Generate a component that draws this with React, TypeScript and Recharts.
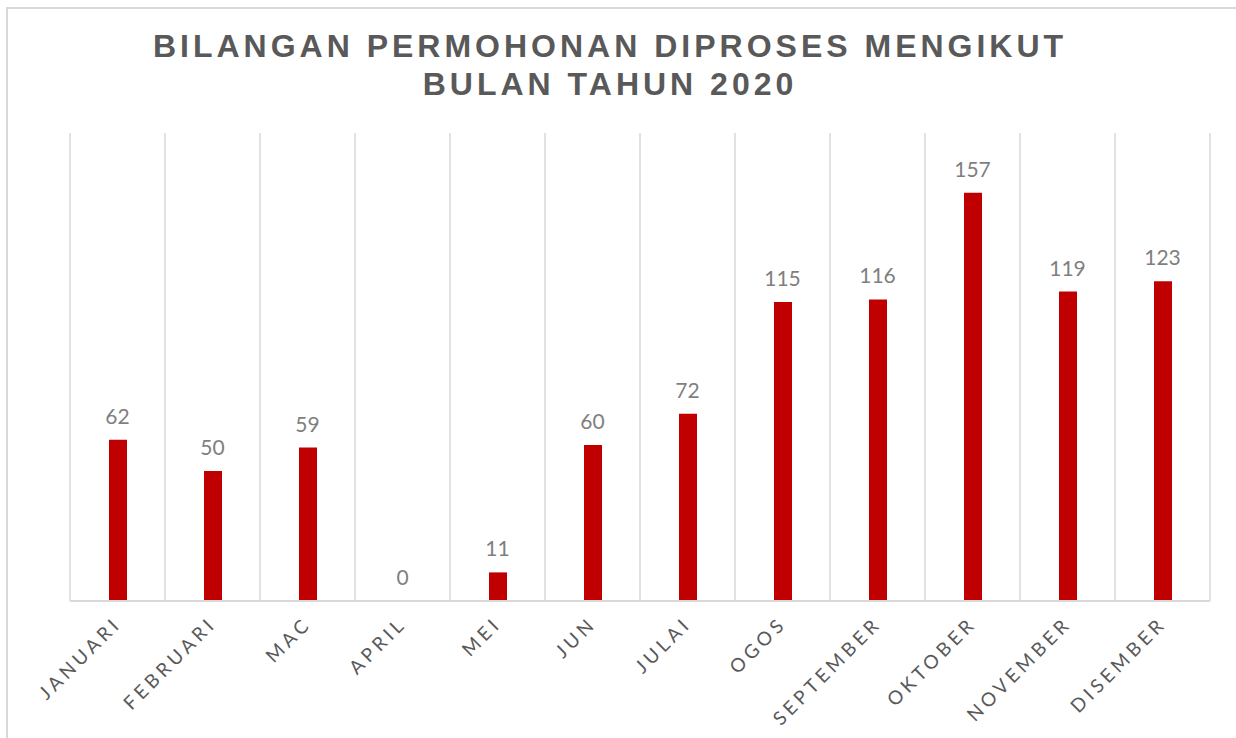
import React from "react";
import { ComposedChart, Bar, Line, XAxis, YAxis, CartesianGrid, LabelList } from "recharts";

// Bilangan permohonan diproses mengikut bulan, 2020
const months = [
  "JANUARI", "FEBRUARI", "MAC", "APRIL", "MEI", "JUN",
  "JULAI", "OGOS", "SEPTEMBER", "OKTOBER", "NOVEMBER", "DISEMBER",
];
const counts = [62, 50, 59, 0, 11, 60, 72, 115, 116, 157, 119, 123];

const data = months.map((m, i) => ({ month: m, value: counts[i] }));

const MonthTick = (props: any) => {
  const { x, y, payload } = props;
  return (
    <g transform={`translate(${x + 5},${y + 16})`}>
      <text
        x={0}
        y={0}
        textAnchor="end"
        transform="rotate(-45)"
        fill="#595959"
        fontSize={19}
        fontFamily="Lato, sans-serif"
        style={{ letterSpacing: "4px" }}
      >
        {payload.value}
      </text>
    </g>
  );
};

export default function App() {
  return (
    <div
      style={{
        position: "absolute",
        left: 0,
        top: 0,
        width: 1236,
        height: 738,
        overflow: "hidden",
        background: "#fff",
      }}
    >
      {/* chart frame, only top/left visible in the crop */}
      <div
        style={{
          position: "absolute",
          left: 6,
          top: 7,
          width: 1260,
          height: 760,
          border: "2px solid #d9d9d9",
        }}
      />
      <div
        style={{
          position: "absolute",
          left: 0,
          top: 27,
          width: 1220,
          textAlign: "center",
          fontFamily: "'Liberation Sans', Arial, sans-serif",
          fontWeight: 700,
          fontSize: 32,
          lineHeight: "38px",
          letterSpacing: "4px",
          color: "#595959",
        }}
      >
        BILANGAN PERMOHONAN DIPROSES MENGIKUT
        <br />
        BULAN TAHUN 2020
      </div>
      <div style={{ position: "absolute", left: 0, top: 0 }}>
        <ComposedChart
          width={1236}
          height={738}
          data={data}
          margin={{ top: 133, right: 26, bottom: 37, left: 70 }}
        >
          <CartesianGrid
            horizontal={false}
            stroke="#d9d9d9"
            strokeWidth={1.5}
            verticalCoordinatesGenerator={({ offset }: any) =>
              Array.from({ length: months.length + 1 }, (_, i) => offset.left + (i * offset.width) / months.length)
            }
          />
          <XAxis
            dataKey="month"
            interval={0}
            height={100}
            tickLine={false}
            axisLine={{ stroke: "#d9d9d9", strokeWidth: 2 }}
            tick={<MonthTick />}
          />
          <YAxis hide width={0} domain={[0, 180]} />
          <Bar dataKey="value" fill="#c00000" barSize={18} isAnimationActive={false} />
          {/* invisible line just to carry the value labels (so 0 gets one too) */}
          <Line
            dataKey="value"
            stroke="none"
            dot={false}
            activeDot={false}
            legendType="none"
            isAnimationActive={false}
          >
            <LabelList
              dataKey="value"
              position="top"
              offset={16}
              fill="#7f7f7f"
              fontSize={21}
              fontFamily="Lato, sans-serif"
            />
          </Line>
        </ComposedChart>
      </div>
    </div>
  );
}
